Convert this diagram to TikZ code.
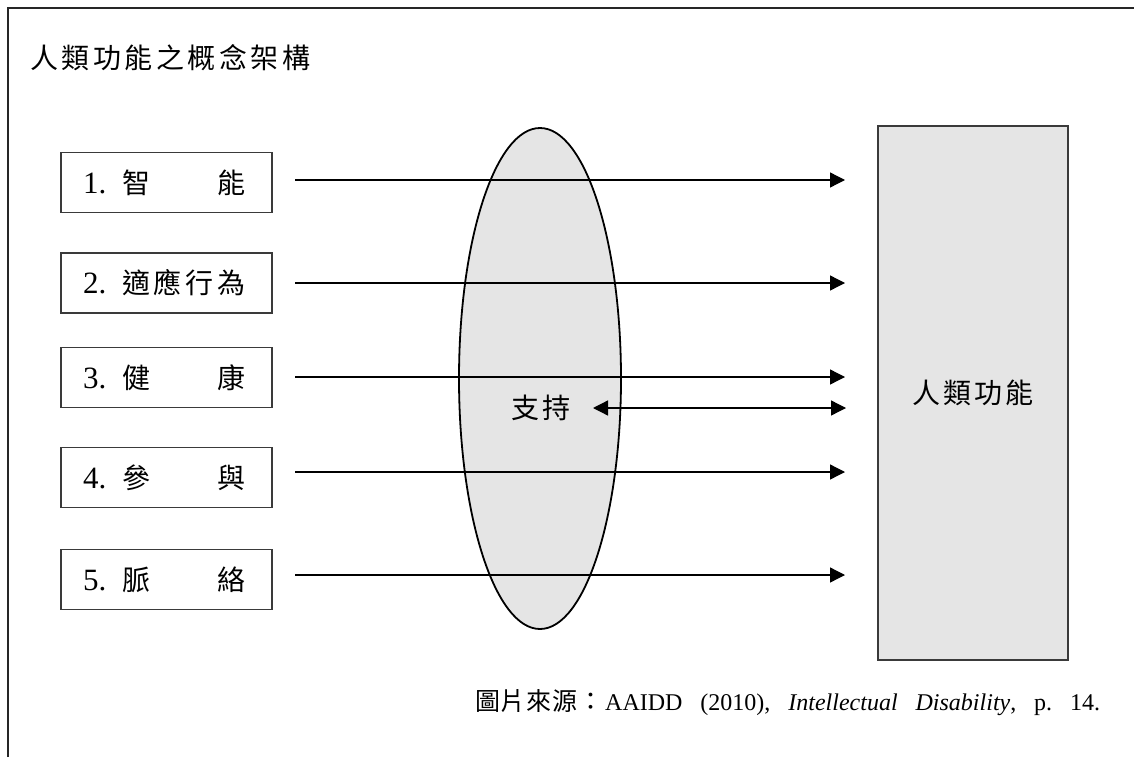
\documentclass[tikz,border=0pt]{standalone}
\usepackage{fontspec}
\setmainfont{Liberation Serif}
\newfontfamily\cjk{Noto Sans CJK TC}
\usetikzlibrary{arrows.meta,shapes.geometric}
\newcommand\cc[2][32pt]{\makebox[#1][l]{#2}}
\newcommand\bigcjk{\cjk\fontsize{28}{28}\selectfont}
\newcommand\numfont{\fontsize{31}{31}\selectfont}
\definecolor{boxgray}{HTML}{E5E5E5}
\definecolor{edgegray}{HTML}{3A3A3A}
\tikzset{
  lbox/.style={draw=edgegray, line width=1.4pt, minimum width=211pt, minimum height=60pt, inner sep=0pt, fill=white},
  rbox/.style={draw=edgegray, line width=1.4pt, fill=boxgray, minimum width=190pt, minimum height=534pt, inner sep=0pt},
  supp/.style={ellipse, draw=black, line width=1.8pt, fill=boxgray, minimum width=162pt, minimum height=501pt, inner sep=0pt},
  conn/.style={line width=1.3pt, -{Triangle[length=15pt,width=15pt]}},
  dconn/.style={line width=1.3pt, {Triangle[length=15pt,width=15pt]}-{Triangle[length=15pt,width=15pt]}},
}
\begin{document}
\frenchspacing
\begin{tikzpicture}[x=1pt,y=-1pt]
\useasboundingbox (0,0) rectangle (1134,757);
\fill[white] (0,0) rectangle (1134,757);
% frame
\draw[line width=2pt, draw=black!85] (7.5,757) -- (7.5,8.5) -- (1134,8.5);
% title
\node[anchor=west, inner sep=0pt] (title) at (30,58) {\bigcjk\cc[31.5pt]{人}\cc[31.5pt]{類}\cc[31.5pt]{功}\cc[31.5pt]{能}\cc[31.5pt]{之}\cc[31.5pt]{概}\cc[31.5pt]{念}\cc[31.5pt]{架}\cc[31.5pt]{構}};
% support ellipse
\node[supp] (sup) at (540,378.5) {};
\node[inner sep=0pt] (suplab) at (541,408) {\bigcjk\cc[31pt]{支}\makebox[28pt][l]{持}};
% human functioning box
\node[rbox] (hf) at (973,393) {\bigcjk\cc[31pt]{人}\cc[31pt]{類}\cc[31pt]{功}\makebox[28pt][l]{能}};
% left boxes
\node[lbox] (b1) at (166.5,182.5) {\numfont\makebox[39pt][l]{1.}\bigcjk\cc{智}\cc{}\cc{}\cc{能}};
\node[lbox] (b2) at (166.5,283) {\numfont\makebox[39pt][l]{2.}\bigcjk\cc{適}\cc{應}\cc{行}\cc{為}};
\node[lbox] (b3) at (166.5,377.5) {\numfont\makebox[39pt][l]{3.}\bigcjk\cc{健}\cc{}\cc{}\cc{康}};
\node[lbox] (b4) at (166.5,477.5) {\numfont\makebox[39pt][l]{4.}\bigcjk\cc{參}\cc{}\cc{}\cc{與}};
\node[lbox] (b5) at (166.5,579.5) {\numfont\makebox[39pt][l]{5.}\bigcjk\cc{脈}\cc{}\cc{}\cc{絡}};
% connector ends
\coordinate (s1) at (295,180);
\coordinate (s2) at (295,283);
\coordinate (s3) at (295,377);
\coordinate (s4) at (295,472);
\coordinate (s5) at (295,575);
\coordinate (e1) at (845,180);
\coordinate (e2) at (845,283);
\coordinate (e3) at (845,377);
\coordinate (e4) at (845,472);
\coordinate (e5) at (845,575);
\coordinate (d1) at (593,408);
\coordinate (d2) at (846,408);
\draw[conn] (s1) -- (e1);
\draw[conn] (s2) -- (e2);
\draw[conn] (s3) -- (e3);
\draw[conn] (s4) -- (e4);
\draw[conn] (s5) -- (e5);
\draw[dconn] (d1) -- (d2);
% source
\node[anchor=base west, inner sep=0pt] (src) at (475,710) {{\cjk\fontsize{25}{25}\selectfont\makebox[128pt][s]{圖\hfill 片\hfill 來\hfill 源\hfill ：}}\hspace{2pt}{\fontsize{24}{24}\selectfont\makebox[495pt][s]{AAIDD (2010), \textit{Intellectual} \textit{Disability}, p. 14.}}};
\end{tikzpicture}
\end{document}
